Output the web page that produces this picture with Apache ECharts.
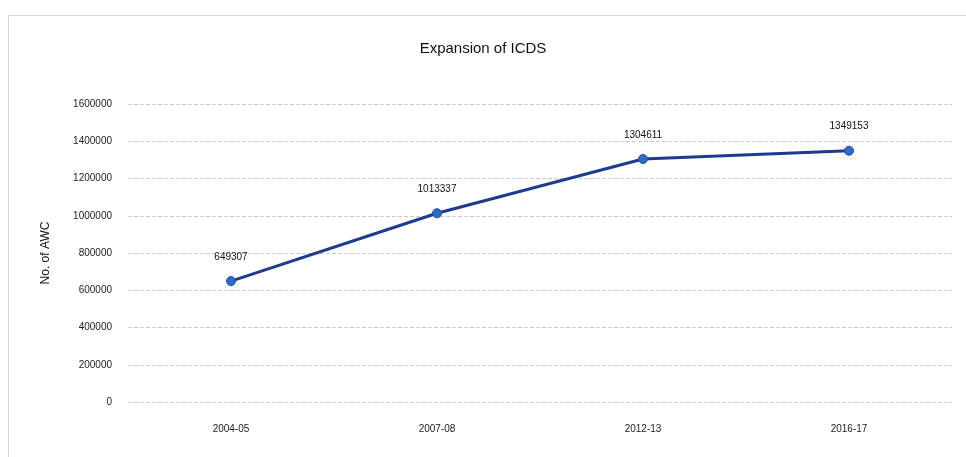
<!DOCTYPE html>
<html>
<head>
<meta charset="utf-8">
<script src="https://cdn.jsdelivr.net/npm/echarts@6/dist/echarts.min.js"></script>
<style>
html,body{margin:0;padding:0;background:#fff;}
#frame{position:absolute;left:8px;top:15px;width:970px;height:460px;border:1px solid #d6d6d6;box-sizing:border-box;}
#c{width:966px;height:457px;position:absolute;left:0;top:0;}
</style>
</head>
<body>
<div id="frame"></div>
<div id="c"></div>
<script>
var categories = ['2004-05', '2007-08', '2012-13', '2016-17'];
var awcValues = [649307, 1013337, 1304611, 1349153];
var yTicks = [0, 200000, 400000, 600000, 800000, 1000000, 1200000, 1400000, 1600000];

var chart = echarts.init(document.getElementById('c'));
var font = 'Liberation Sans, Arial, sans-serif';
chart.setOption({
  animation: false,
  title: {
    text: 'Expansion of ICDS',
    left: 'center',
    top: 36,
    textStyle: {fontFamily: font, fontSize: 15, fontWeight: 'normal', color: '#111'}
  },
  grid: {left: 128, right: 14, top: 104, bottom: 55},
  xAxis: {
    type: 'category',
    data: categories,
    boundaryGap: true,
    axisLine: {show: false},
    axisTick: {show: false},
    axisLabel: {fontFamily: font, fontSize: 10, color: '#222', margin: 22}
  },
  yAxis: {
    type: 'value',
    min: yTicks[0],
    max: yTicks[yTicks.length - 1],
    interval: 200000,
    name: 'No. of AWC',
    nameLocation: 'middle',
    nameGap: 76,
    nameTextStyle: {fontFamily: font, fontSize: 12, color: '#111'},
    axisLine: {show: false},
    axisTick: {show: false},
    axisLabel: {fontFamily: font, fontSize: 10, color: '#222', margin: 16,
      formatter: function (v) { return String(v); }},
    splitLine: {show: true, lineStyle: {color: '#c8c8c8', type: 'dashed', width: 1}}
  },
  series: [{
    type: 'line',
    data: awcValues,
    symbol: 'circle',
    symbolSize: 9,
    lineStyle: {color: '#1f3a8f', width: 3},
    itemStyle: {color: '#2f6cc4', borderColor: '#1f4fa0', borderWidth: 1},
    label: {show: true, position: 'top', distance: 14, fontFamily: font, fontSize: 10, color: '#111'}
  }]
});
</script>
</body>
</html>
